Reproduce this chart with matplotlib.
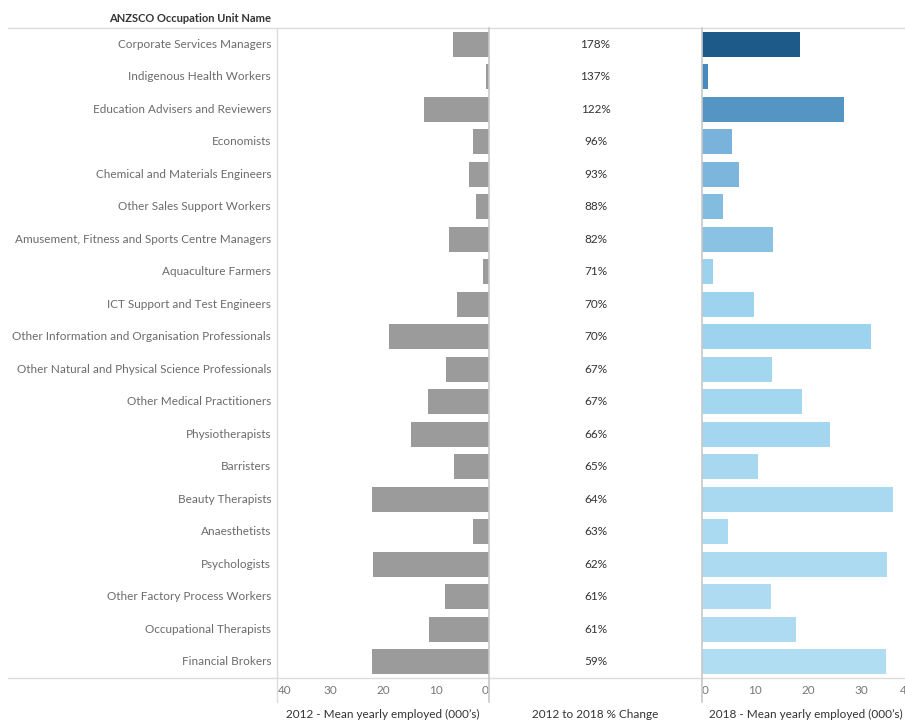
import numpy as np
import matplotlib
matplotlib.use("Agg")
import matplotlib.pyplot as plt
from matplotlib.colors import LinearSegmentedColormap, Normalize
from matplotlib.lines import Line2D
from matplotlib.transforms import blended_transform_factory

# === DATA ===
occupations = [
    "Corporate Services Managers",
    "Indigenous Health Workers",
    "Education Advisers and Reviewers",
    "Economists",
    "Chemical and Materials Engineers",
    "Other Sales Support Workers",
    "Amusement, Fitness and Sports Centre Managers",
    "Aquaculture Farmers",
    "ICT Support and Test Engineers",
    "Other Information and Organisation Professionals",
    "Other Natural and Physical Science Professionals",
    "Other Medical Practitioners",
    "Physiotherapists",
    "Barristers",
    "Beauty Therapists",
    "Anaesthetists",
    "Psychologists",
    "Other Factory Process Workers",
    "Occupational Therapists",
    "Financial Brokers",
]
employed_2012 = [6.8, 0.6, 12.3, 3.0, 3.7, 2.4, 7.5, 1.2, 6.0, 19.0,
                 8.1, 11.5, 14.8, 6.6, 22.2, 3.1, 22.0, 8.3, 11.3, 22.2]
employed_2018 = [18.4, 1.1, 26.8, 5.6, 7.0, 3.9, 13.4, 2.0, 9.8, 31.9,
                 13.2, 18.8, 24.1, 10.6, 36.1, 4.9, 34.9, 13.0, 17.8, 34.8]
pct_change = [178, 137, 122, 96, 93, 88, 82, 71, 70, 70,
              67, 67, 66, 65, 64, 63, 62, 61, 61, 59]
ticks = [0, 10, 20, 30, 40]

# === LAYOUT (pixels) ===
W, H = 905, 723
TOP, BOTTOM = 28, 678
X_LBL, X_MID, X_RIGHT = 277, 489, 702

GRID = "#dcdcdc"
ZERO = "#c8c8c8"
GREY_BAR = "#9b9b9b"
LABEL = "#6b6b6b"
DARK = "#333333"

plt.rcParams["font.family"] = ["Lato", "DejaVu Sans"]

fig = plt.figure(figsize=(W / 100, H / 100), dpi=100)


def fx(px):
    return px / W


def fy(py):
    return 1 - py / H


ax_l = fig.add_axes([fx(X_LBL), fy(BOTTOM), fx(X_MID - X_LBL), fy(TOP) - fy(BOTTOM)])
ax_m = fig.add_axes([fx(X_MID), fy(BOTTOM), fx(X_RIGHT - X_MID), fy(TOP) - fy(BOTTOM)])
ax_r = fig.add_axes([fx(X_RIGHT), fy(BOTTOM), fx(W - X_RIGHT), fy(TOP) - fy(BOTTOM)])

n = len(occupations)
y = np.arange(n)

# tableau-like sequential blue, keyed on % change
cmap = LinearSegmentedColormap.from_list(
    "tab_blue",
    [(0.0, "#b1ddf2"), (0.092, "#9dd3ee"), (0.193, "#89c2e2"), (0.311, "#79b3db"),
     (0.529, "#5595c3"), (0.655, "#4a89bd"), (1.0, "#1d5a8a")])
norm = Normalize(vmin=min(pct_change), vmax=max(pct_change))
colors = [cmap(norm(p)) for p in pct_change]

ax_l.barh(y, employed_2012, height=0.77, color=GREY_BAR)
ax_r.barh(y, employed_2018, height=0.77, color=colors)
for i, p in enumerate(pct_change):
    ax_m.text(0.5, i, f"{p}%", ha="center", va="center", fontsize=8.5, color=DARK)

ax_l.set_xlim(40.2, 0)
ax_r.set_xlim(0, 38.3)
for ax in (ax_l, ax_m, ax_r):
    ax.set_ylim(n - 0.5, -0.5)
    ax.set_xticks([])
    ax.set_yticks([])
    for s in ax.spines.values():
        s.set_visible(False)
ax_m.set_xlim(0, 1)

# category labels
for i, name in enumerate(occupations):
    ax_l.text(-0.028, i, name, transform=blended_transform_factory(ax_l.transAxes, ax_l.transData),
              ha="right", va="center", fontsize=8.5, color=LABEL)

# bottom tick labels
tick_y = fy(691)
for t in ticks:
    ha = "left" if t == 40 else ("right" if t == 0 else "center")
    ax_l.text(t, tick_y, str(t), transform=blended_transform_factory(ax_l.transData, fig.transFigure),
              ha=ha, va="center", fontsize=8.5, color="#777777")
for t in ticks[:-1]:
    ha = "left" if t == 0 else "center"
    ax_r.text(t, tick_y, str(t), transform=blended_transform_factory(ax_r.transData, fig.transFigure),
              ha=ha, va="center", fontsize=8.5, color="#777777")
# last tick label runs off the right edge, as in the dashboard
fig.text(fx(900), tick_y, str(ticks[-1]), ha="left", va="center", fontsize=8.5, color="#777777")

# axis titles
fig.text(fx(383), fy(714), "2012 - Mean yearly employed (000\u2019s)", ha="center", va="center",
         fontsize=8.5, color=DARK)
fig.text(fx(595), fy(714), "2012 to 2018 % Change", ha="center", va="center",
         fontsize=8.5, color=DARK)
fig.text(fx(806), fy(714), "2018 - Mean yearly employed (000\u2019s)", ha="center", va="center",
         fontsize=8.5, color=DARK)

# header
fig.text(fx(271), fy(18), "ANZSCO Occupation Unit Name", ha="right", va="center",
         fontsize=8.0, color=DARK, fontweight="bold")

# rules
fig.add_artist(Line2D([fx(8), 1], [fy(TOP), fy(TOP)], color=GRID, lw=1))
fig.add_artist(Line2D([fx(8), 1], [fy(BOTTOM), fy(BOTTOM)], color=GRID, lw=1))
fig.add_artist(Line2D([fx(X_LBL), fx(X_LBL)], [fy(TOP), fy(702)], color=GRID, lw=1))
fig.add_artist(Line2D([fx(X_MID), fx(X_MID)], [fy(TOP), fy(702)], color=ZERO, lw=1.2))
fig.add_artist(Line2D([fx(X_RIGHT), fx(X_RIGHT)], [fy(TOP), fy(702)], color=ZERO, lw=1.2))

plt.savefig("out.png", dpi=100)
